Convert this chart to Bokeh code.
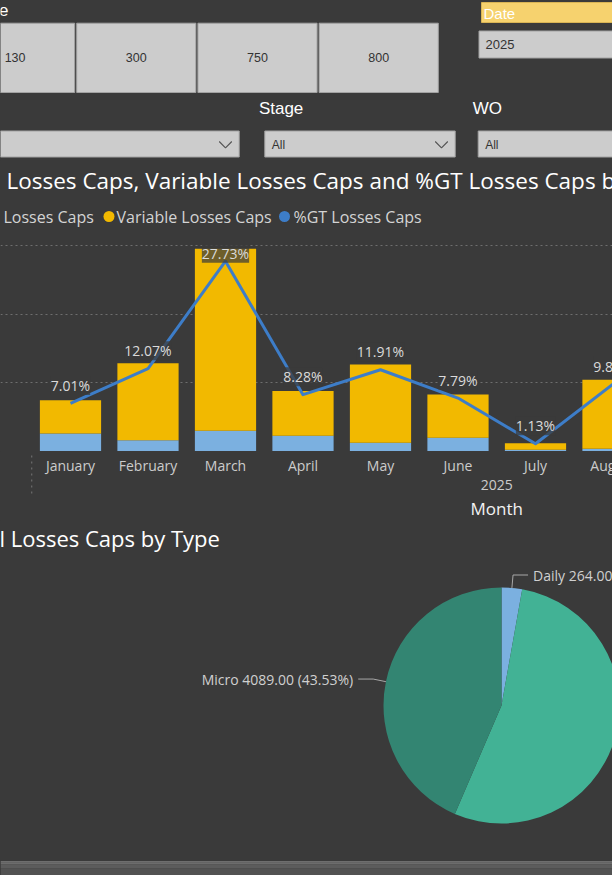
import math
from bokeh.plotting import figure
from bokeh.models import Range1d, ColumnDataSource, LabelSet, Grid, FixedTicker
from bokeh.layouts import column
from bokeh.embed import file_html
from bokeh.resources import INLINE
from bokeh.core.properties import value

# ---------------- data ----------------
slicer_title = "e"
size_buttons = ["130", "300", "750", "800"]
date_header = "Date"
date_value = "2025"
stage_label = "Stage"
wo_label = "WO"
dropdown_values = ["", "All", "All"]

bar_title = "Losses Caps, Variable Losses Caps and %GT Losses Caps by Month"
legend_labels = ["Losses Caps", "Variable Losses Caps", "%GT Losses Caps"]
months = ["January", "February", "March", "April", "May", "June", "July", "August"]
fixed_losses = [262, 165, 301, 229, 127, 199, 25, 39]
variable_losses = [484, 1120, 2652, 653, 1141, 631, 95, 1007]
gt_pct = [7.01, 12.07, 27.73, 8.28, 11.91, 7.79, 1.13, 9.82]
value_ticks = [0, 1000, 2000, 3000]
year_label = "2025"
months_in_year = 12
x_title = "Month"

pie_title = "l Losses Caps by Type"
pie_types = ["Daily", "Macro", "Micro"]
pie_values = [264.0, 5040.5, 4089.0]

# ---------------- styles ----------------
BG = "#3a3a3a"
YELLOW = "#f2b900"
LIGHT_BLUE = "#7bb0e0"
LINE_BLUE = "#3d7dc8"
PIE_COLORS = ["#7bb0e0", "#42b295", "#338572"]
UI = value("Liberation Sans")
CH = value("Open Sans")
W = 612


def base(h, xr, yr):
    p = figure(width=W, height=h, x_range=xr, y_range=yr, output_backend="svg",
               toolbar_location=None, x_axis_type=None, y_axis_type=None,
               min_border=0, background_fill_color=BG, border_fill_color=BG,
               outline_line_color=None)
    return p


# ---------------- slicers ----------------
f1 = base(160, Range1d(0, W), Range1d(160, 0))
f1.text(x=[8], y=[9], text=[slicer_title], text_font=UI, text_font_size="17px",
        text_color="#ffffff", text_align="right", text_baseline="middle")
lefts = [-45 + i * 121.2 for i in range(len(size_buttons))]
rights = [l + 119.2 for l in lefts]
f1.quad(left=lefts, right=rights, top=22.7, bottom=92, fill_color="#cccccc",
        line_color="#a2a2a2", line_width=1)
f1.text(x=[(l + r) / 2 for l, r in zip(lefts, rights)], y=[57] * len(size_buttons),
        text=size_buttons, text_font=UI, text_font_size="12.5px", text_color="#333333",
        text_align="center", text_baseline="middle")
# date slicer
f1.quad(left=[481], right=[620], top=[2], bottom=[22], fill_color="#f6d26e",
        line_color="#d9b455", line_width=1)
f1.text(x=[483], y=[12.5], text=[date_header], text_font=UI, text_font_size="15px",
        text_color="#ffffff", text_align="left", text_baseline="middle")
f1.quad(left=[478.5], right=[620], top=[30.5], bottom=[57.5], fill_color="#cccccc",
        line_color="#a2a2a2", line_width=1)
f1.text(x=[485], y=[44], text=[date_value], text_font=UI, text_font_size="13px",
        text_color="#333333", text_align="left", text_baseline="middle")
# headers
f1.text(x=[258.4, 472.3], y=[108, 108], text=[stage_label, wo_label], text_font=UI,
        text_font_size="17px", text_color="#ffffff", text_align="left", text_baseline="middle")
# dropdowns
dl = [-5, 264.3, 477.7]
dr = [238.7, 454.7, 620]
f1.quad(left=dl, right=dr, top=130.5, bottom=156.5, fill_color="#cccccc",
        line_color="#a2a2a2", line_width=1)
f1.text(x=[l + 7 for l in dl], y=[144] * 3, text=dropdown_values, text_font=UI,
        text_font_size="12px", text_color="#333333", text_align="left", text_baseline="middle")
chev = [r - 13.7 for r in dr if r < W]
f1.multi_line(xs=[[c - 6.3, c, c + 6.3] for c in chev], ys=[[141, 147.3, 141] for c in chev],
              line_color="#555555", line_width=1.2)

# ---------------- bar chart header ----------------
f2 = base(84, Range1d(0, W), Range1d(84, 0))
f2.text(x=[6], y=[20], text=[bar_title], text_font=CH, text_font_size="22.5px",
        text_color="#ffffff", text_align="left", text_baseline="middle")
f2.text(x=[3, 116, 293], y=[56] * 3, text=legend_labels, text_font=CH, text_font_size="16px",
        text_color="#d4d4d4", text_align="left", text_baseline="middle")
f2.scatter(x=[108.5, 284], y=[56, 56], size=11, marker="circle",
           fill_color=[YELLOW, LINE_BLUE], line_color=None)

# ---------------- bar chart ----------------
px_per_cat = 77.5
x0 = -70 / px_per_cat
xr = Range1d(x0, x0 + W / px_per_cat)
f3 = base(207, xr, Range1d(0, 3014))
f3.extra_y_ranges = {"pct": Range1d(0, 30.17)}
f3.add_layout(Grid(dimension=1, ticker=FixedTicker(ticks=value_ticks),
                   grid_line_color="#6e6e6e", grid_line_dash="2 3", grid_line_width=1))
src = ColumnDataSource(dict(
    idx=list(range(len(months))), fixed=fixed_losses, variable=variable_losses, pct=gt_pct,
    label=[f"{v:.2f}%" for v in gt_pct],
    off=[8 if v > 25 else 18 for v in gt_pct],
))
f3.vbar_stack(["fixed", "variable"], x="idx", width=0.79, color=[LIGHT_BLUE, YELLOW],
              line_color=None, source=src)
f3.line(x="idx", y="pct", y_range_name="pct", source=src, line_color=LINE_BLUE,
        line_width=3, line_join="round")
f3.add_layout(LabelSet(x="idx", y="pct", y_range_name="pct", text="label", source=src,
                       y_offset="off", text_align="center", text_baseline="middle",
                       text_font=CH, text_font_size="14px", text_color="#dadada",
                       background_fill_color=BG, background_fill_alpha=0.72))

# ---------------- x axis area ----------------
f4 = base(69, xr, Range1d(69, 0))
f4.text(x=list(range(len(months))), y=[14] * len(months), text=months, text_font=CH,
        text_font_size="14px", text_color="#cccccc", text_align="center", text_baseline="middle")
yc = (months_in_year - 1) / 2
f4.text(x=[yc], y=[33], text=[year_label], text_font=CH, text_font_size="14px",
        text_color="#cccccc", text_align="center", text_baseline="middle")
f4.text(x=[yc], y=[57], text=[x_title], text_font=CH, text_font_size="17px",
        text_color="#f2f2f2", text_align="center", text_baseline="middle")
f4.segment(x0=[-0.5], y0=[4], x1=[-0.5], y1=[42], line_color="#777777",
           line_dash="2 4", line_width=1)

# ---------------- pie ----------------
f5 = base(340, Range1d(0, W), Range1d(0, 340))
f5.text(x=[-1], y=[322.7], text=[pie_title], text_font=CH, text_font_size="22px",
        text_color="#ffffff", text_align="left", text_baseline="middle")
cx, cy, R = 501, 155, 118
total = sum(pie_values)
cum = [0]
for v in pie_values:
    cum.append(cum[-1] + v / total)
starts = [math.pi / 2 - 2 * math.pi * c for c in cum[:-1]]
ends = [math.pi / 2 - 2 * math.pi * c for c in cum[1:]]
f5.wedge(x=cx, y=cy, radius=R, start_angle=starts, end_angle=ends, direction="clock",
         fill_color=PIE_COLORS, line_color=None)
lx, ly, ltxt, lal = [], [], [], []
for t, v, s, e in zip(pie_types, pie_values, starts, ends):
    m = (s + e) / 2
    c, sn = math.cos(m), math.sin(m)
    p1 = (cx + R * c, cy + R * sn)
    p2 = (cx + (R + 13) * c, cy + (R + 13) * sn)
    sgn = 1 if c >= 0 else -1
    p3 = (p2[0] + 15 * sgn, p2[1])
    tx = p3[0] + 5 * sgn
    if 0 <= tx <= W:
        f5.line(x=[p1[0], p2[0], p3[0]], y=[p1[1], p2[1], p3[1]], line_color="#a8a8a8", line_width=1)
        lx.append(tx)
        ly.append(p2[1])
        ltxt.append(f"{t} {v:.2f} ({100 * v / total:.2f}%)")
        lal.append("left" if sgn > 0 else "right")
f5.text(x=lx, y=ly, text=ltxt, text_align=lal, text_font=CH, text_font_size="14px",
        text_color="#d0d0d0", text_baseline="middle")

# ---------------- bottom bar ----------------
f6 = base(15, Range1d(0, W), Range1d(15, 0))
f6.quad(left=0, right=W, top=[0.7, 2, 4, 8], bottom=[2, 4, 8, 15],
        fill_color=["#808080", "#6c6c6c", "#5c5c5c", "#525252"], line_color=None)

layout = column(f1, f2, f3, f4, f5, f6, spacing=0)
layout.styles = {"background-color": BG}
html = file_html(layout, INLINE)
html = html.replace("<head>", "<head><style>html,body{background:%s;margin:0;padding:0;}</style>" % BG, 1)
open("out.html", "w").write(html)
